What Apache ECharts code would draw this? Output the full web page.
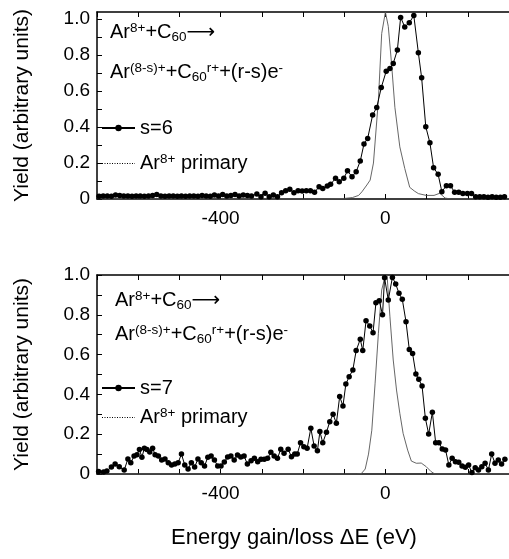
<!DOCTYPE html>
<html>
<head>
<meta charset="utf-8">
<script src="https://cdn.jsdelivr.net/npm/echarts@6/dist/echarts.min.js"></script>
<style>
html,body{margin:0;padding:0;background:#fff;}
#chart{width:509px;height:559px;}
</style>
</head>
<body>
<div id="chart"></div>
<script>
// ---- tick values ----
const xTickValues = [-700, -600, -500, -400, -300, -200, -100, 0, 100, 200, 300];
const xLabelValues = [-400, 0];
const yTickValues = [0, 0.1, 0.2, 0.3, 0.4, 0.5, 0.6, 0.7, 0.8, 0.9, 1.0];
const yLabelValues = [0, 0.2, 0.4, 0.6, 0.8, 1.0];

// ---- top panel: s=6 ----
const s6Energy = [-695,-685,-675,-665,-655,-645,-635,-625,-615,-605,-595,-585,-575,-565,-555,-545,-535,-525,-515,-505,
  -495,-485,-475,-465,-455,-445,-435,-425,-415,-405,-395,-385,-375,-365,-355,-345,-335,-325,-312,-302,
  -292,-282,-272,-262,-252,-242,-232,-222,-212,-202,-192,-182,-172,-161,-152,-141,-133,-121,-112,-101,
  -92,-81,-71,-61,-52,-43,-31,-21,-10,2,11,19,29,37,47,58,69,80,88,98,
  108,117,128,137,148,158,168,178,188,199,209,219,229,239,249,259,269,279,289];
const s6Yield = [0.015,0.017,0.017,0.015,0.022,0.02,0.017,0.017,0.015,0.017,0.017,0.015,0.017,0.02,0.025,0.017,0.015,0.017,0.017,0.015,
  0.017,0.015,0.017,0.017,0.015,0.02,0.017,0.015,0.022,0.017,0.025,0.017,0.02,0.025,0.017,0.022,0.02,0.017,0.028,0.013,
  0.032,0.013,0.022,0.013,0.035,0.046,0.054,0.035,0.046,0.044,0.046,0.046,0.037,0.068,0.059,0.072,0.082,0.115,0.096,0.115,
  0.157,0.124,0.152,0.211,0.306,0.337,0.467,0.509,0.62,0.711,0.726,0.754,0.828,1.01,0.957,0.98,1.02,0.813,0.674,0.402,
  0.313,0.174,0.137,0.041,0.074,0.074,0.037,0.037,0.031,0.031,0.031,0.013,0.013,0.013,0.01,0.013,0.01,0.01,0.013];

// ---- top panel: Ar8+ primary ----
const primTopEnergy = [-700,-150,-100,-80,-65,-57,-45,-37,-29,-17,-9,0,7,15,23,35,47,59,70,80,99,118,132,145,160,300];
const primTopYield  = [0,0,0.003,0.008,0.02,0.04,0.078,0.105,0.2,0.55,0.92,1.04,0.96,0.75,0.51,0.29,0.17,0.065,0.045,0.03,0.02,0.02,0.032,0.005,0,0];

// ---- bottom panel: s=7 ----
const s7Energy = [-696,-684,-676,-665,-656,-646,-634,-625,-618,-610,-603,-597,-591,-585,-579,-572,-565,-559,-551,-543,
  -535,-527,-519,-511,-503,-495,-487,-479,-471,-463,-455,-447,-439,-431,-423,-415,-407,-399,-391,-383,
  -375,-367,-359,-351,-343,-335,-326,-318,-310,-302,-294,-286,-278,-270,-262,-254,-246,-236,-228,-220,
  -214,-206,-198,-190,-181,-173,-165,-159,-152,-143,-135,-127,-119,-111,-103,-96,-88,-79,-71,-61,
  -55,-47,-38,-30,-23,-15,-7,-2,7,17,25,33,41,50,58,66,74,81,89,97,
  105,114,122,130,138,146,154,162,170,178,186,194,202,210,218,226,234,242,250,258,
  266,274,282,290];
const s7Yield = [0.012,0.01,0.015,0.035,0.05,0.036,0.02,0.075,0.057,0.09,0.097,0.123,0.084,0.13,0.123,0.11,0.13,0.097,0.09,0.07,
  0.075,0.057,0.045,0.05,0.057,0.1,0.045,0.025,0.057,0.035,0.075,0.057,0.04,0.084,0.09,0.07,0.04,0.04,0.06,0.085,
  0.09,0.07,0.095,0.085,0.09,0.05,0.067,0.079,0.062,0.074,0.074,0.079,0.109,0.09,0.079,0.124,0.104,0.124,0.087,0.10,
  0.10,0.157,0.137,0.129,0.23,0.141,0.117,0.213,0.157,0.21,0.263,0.30,0.255,0.389,0.342,0.452,0.489,0.523,0.62,0.677,
  0.62,0.77,0.744,0.71,0.861,0.871,0.80,0.986,0.874,0.988,0.955,0.908,0.878,0.765,0.626,0.606,0.503,0.476,0.442,0.28,
  0.201,0.31,0.157,0.157,0.126,0.121,0.045,0.079,0.062,0.059,0.04,0.034,0.045,0.007,0.032,0.02,0.037,0.054,0.02,0.10,
  0.054,0.07,0.05,0.074];

// ---- bottom panel: Ar8+ primary ----
const primBotEnergy = [-700,-70,-58,-49,-41,-33,-25,-17,-9,-1,4,11,19,27,35,43,54,63,75,87,99,111,120,300];
const primBotYield  = [0,0,0.003,0.025,0.1,0.22,0.456,0.707,0.925,0.99,1.0,0.79,0.573,0.422,0.305,0.204,0.12,0.065,0.054,0.055,0.037,0.012,0,0];

// ---- texts ----
const yAxisTitle = 'Yield (arbitrary units)';
const xAxisTitle = 'Energy gain/loss \u0394E (eV)';
const primaryTop = 'Ar8+ primary';
const primaryBottom = 'Ar8+ primary (s=7)';

const zip = (a, b) => a.map((v, i) => [v, b[i]]);
const FONT = '"Liberation Sans", Arial, Helvetica, sans-serif';
const chart = echarts.init(document.getElementById('chart'), null, {renderer: 'canvas'});

const rich = {
  a: {fontSize: 20, fontFamily: FONT, fontWeight: 'normal', color: '#000'},
  sup: {fontSize: 13.5, fontFamily: FONT, fontWeight: 'normal', color: '#000', padding: [0, 0, 9, 0]},
  sub: {fontSize: 13.5, fontFamily: FONT, fontWeight: 'normal', color: '#000', padding: [9, 0, 0, 0]},
  arr: {fontSize: 20, fontFamily: '"DejaVu Sans", sans-serif', fontWeight: 'normal', color: '#000'}
};

function xAxes(grid) {
  const common = {
    type: 'value', gridIndex: grid, min: -700, max: 300,
    axisLine: {onZero: false, lineStyle: {color: '#000', width: 1.5}},
    splitLine: {show: false}
  };
  return [
    Object.assign({}, common, {
      position: 'bottom',
      axisTick: {inside: true, length: 5, customValues: xTickValues, lineStyle: {color: '#000', width: 1}},
      axisLabel: {customValues: xLabelValues, fontSize: 19, fontFamily: FONT, color: '#000', margin: 10}
    }),
    Object.assign({}, common, {
      position: 'top',
      axisTick: {inside: true, length: 5, customValues: xTickValues, lineStyle: {color: '#000', width: 1}},
      axisLabel: {show: false}
    })
  ];
}

function yAxis(grid, max) {
  return {
    type: 'value', gridIndex: grid, min: 0, max: max, position: 'left',
    axisLine: {show: true, onZero: false, lineStyle: {color: '#000', width: 1.5}},
    axisTick: {show: true, inside: true, length: 5, customValues: yTickValues, lineStyle: {color: '#000'}},
    axisLabel: {customValues: yLabelValues, fontSize: 19, fontFamily: FONT, color: '#000', margin: 7,
      formatter: v => (v === 0 ? '0' : v.toFixed(1))},
    splitLine: {show: false},
    name: yAxisTitle, nameLocation: 'middle', nameGap: 64, nameRotate: 90,
    nameTextStyle: {fontSize: 21, fontFamily: FONT, color: '#000'}
  };
}

function legendFor(top, mainName, primName, gap) {
  return {
    orient: 'vertical', left: 101, top: top, itemGap: gap, padding: 0,
    itemWidth: 33, itemHeight: 8,
    data: [
      {name: mainName, lineStyle: {width: 2, color: '#000'}},
      {name: primName, itemStyle: {opacity: 0}, lineStyle: {type: [1, 1.5], width: 1, color: '#000'}}
    ],
    selectedMode: false,
    formatter: n => (n.indexOf('primary') >= 0 ? '{a|Ar}{sup|8+}{a| primary}' : '{a|' + n + '}'),
    textStyle: {fontSize: 20, fontFamily: FONT, color: '#000', rich: rich}
  };
}

const line1 = '{a|Ar}{sup|8+}{a|+C}{sub|60}{arr|\u27F6}';
const line2 = '{a|Ar}{sup|(8-s)+}{a|+C}{sub|60}{sup|r+}{a|+(r-s)e}{sup|-}';

const option = {
  animation: false,
  backgroundColor: '#fff',
  grid: [
    {left: 97, top: 12, width: 415, height: 187, containLabel: false},
    {left: 97, top: 275, width: 415, height: 199, containLabel: false}
  ],
  xAxis: xAxes(0).concat(xAxes(1)),
  yAxis: [yAxis(0, 1.04), yAxis(1, 1.0)],
  title: [
    {text: line1, left: 110, top: 21, padding: 0, textStyle: {rich: rich}},
    {text: line2, left: 110, top: 61, padding: 0, textStyle: {rich: rich}},
    {text: line1, left: 115, top: 289, padding: 0, textStyle: {rich: rich}},
    {text: line2, left: 115, top: 323, padding: 0, textStyle: {rich: rich}},
    {text: xAxisTitle, left: 294, top: 527, padding: 0, textAlign: 'center',
      textStyle: {fontSize: 22, fontWeight: 'normal', fontFamily: FONT, color: '#000'}}
  ],
  legend: [
    legendFor(118, 's=6', primaryTop, 14),
    legendFor(378, 's=7', primaryBottom, 8)
  ],
  series: [
    {name: 's=6', type: 'line', xAxisIndex: 0, yAxisIndex: 0, data: zip(s6Energy, s6Yield),
      symbol: 'circle', symbolSize: 5.5, showAllSymbol: true,
      lineStyle: {color: '#000', width: 1}, itemStyle: {color: '#000'}, z: 3},
    {name: primaryTop, type: 'line', xAxisIndex: 0, yAxisIndex: 0, data: zip(primTopEnergy, primTopYield),
      symbol: 'none', lineStyle: {color: '#555', width: 0.9}, itemStyle: {color: '#555'}, z: 2},
    {name: 's=7', type: 'line', xAxisIndex: 2, yAxisIndex: 1, data: zip(s7Energy, s7Yield),
      symbol: 'circle', symbolSize: 5.5, showAllSymbol: true,
      lineStyle: {color: '#000', width: 1}, itemStyle: {color: '#000'}, z: 3},
    {name: primaryBottom, type: 'line', xAxisIndex: 2, yAxisIndex: 1, data: zip(primBotEnergy, primBotYield),
      symbol: 'none', lineStyle: {color: '#555', width: 0.9}, itemStyle: {color: '#555'}, z: 2}
  ]
};
chart.setOption(option);
</script>
</body>
</html>
